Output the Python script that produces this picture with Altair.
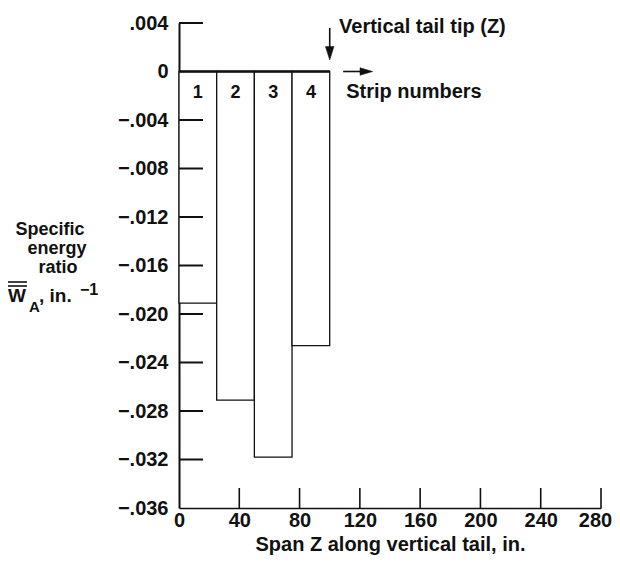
import altair as alt
import pandas as pd

# ---- data ----
strip_numbers = [1, 2, 3, 4]
strip_start = [0, 25, 50, 75]
strip_end = [25, 50, 75, 100]
energy_ratio = [-0.0191, -0.0271, -0.0318, -0.0226]

y_tick_values = [0.004, 0.0, -0.004, -0.008, -0.012, -0.016, -0.020,
                 -0.024, -0.028, -0.032, -0.036]
x_tick_values = [0, 40, 80, 120, 160, 200, 240, 280]

FONT = "Liberation Sans"
BLACK = "#111111"

bars = pd.DataFrame({
    "strip": strip_numbers,
    "start": strip_start,
    "end": strip_end,
    "mid": [(a + b) / 2 for a, b in zip(strip_start, strip_end)],
    "top": [0.0] * len(strip_numbers),
    "value": energy_ratio,
    "label_y": [-0.00218] * len(strip_numbers),
})

xs = alt.Scale(domain=[0, 280], nice=False, zero=False)
ys = alt.Scale(domain=[-0.036, 0.004], nice=False, zero=False)

y_label_expr = ("datum.value == 0 ? '0' : (datum.value < 0 ? '\u2212' : '') + "
                "replace(format(abs(datum.value), '.3f'), '0.', '.')")

bar_layer = alt.Chart(bars).mark_rect(
    fill="white", stroke=BLACK, strokeWidth=1.3
).encode(
    x=alt.X("start:Q", scale=xs, axis=alt.Axis(
        values=x_tick_values, ticks=False, tickSize=0, grid=False,
        labelFont=FONT, labelFontSize=20, labelFontWeight="bold",
        labelColor=BLACK, labelPadding=2, domainColor=BLACK, domainWidth=1.6,
        labelOffset={"condition": {"test": "datum.value == 280", "value": -6},
                     "value": 0},
        title="Span Z along vertical tail, in.", titleFont=FONT,
        titleFontSize=20, titleFontWeight="bold", titleColor=BLACK,
        titlePadding=4, labelFlush=False)),
    x2="end:Q",
    y=alt.Y("top:Q", scale=ys, axis=alt.Axis(
        values=y_tick_values, ticks=False, tickSize=0, grid=False,
        labelExpr=y_label_expr, labelFont=FONT, labelFontSize=20,
        labelFontWeight="bold", labelColor=BLACK, labelPadding=11,
        domainColor=BLACK, domainWidth=2, title="", labelFlush=False)),
    y2="value:Q",
)

zero_df = pd.DataFrame({"x0": [strip_start[0]], "x1": [strip_end[-1]], "y": [0.0]})
zero_line = alt.Chart(zero_df).mark_rule(color=BLACK, strokeWidth=2.4).encode(
    x=alt.X("x0:Q", scale=xs), x2="x1:Q", y=alt.Y("y:Q", scale=ys))

ytick_df = pd.DataFrame({"v": [v for v in y_tick_values if v not in (0.0, -0.036)]})
y_ticks = alt.Chart(ytick_df).mark_rule(color=BLACK, strokeWidth=2).encode(
    y=alt.Y("v:Q", scale=ys), x=alt.value(0), x2=alt.value(24))

xtick_df = pd.DataFrame({"v": [v for v in x_tick_values if v != 0]})
x_ticks = alt.Chart(xtick_df).mark_rule(color=BLACK, strokeWidth=1.6).encode(
    x=alt.X("v:Q", scale=xs), y=alt.value(485), y2=alt.value(465))

strip_text = alt.Chart(bars).mark_text(
    font=FONT, fontSize=18, fontWeight="bold", color=BLACK,
    align="center", baseline="alphabetic"
).encode(x=alt.X("mid:Q", scale=xs), y=alt.Y("label_y:Q", scale=ys), text="strip:N")

notes = pd.DataFrame({
    "x": [106.2, 110.9],
    "y": [0.00317, -0.00218],
    "t": ["Vertical tail tip (Z)", "Strip numbers"],
})
note_text = alt.Chart(notes).mark_text(
    font=FONT, fontSize=20, fontWeight="bold", color=BLACK,
    align="left", baseline="alphabetic"
).encode(x=alt.X("x:Q", scale=xs), y=alt.Y("y:Q", scale=ys), text="t:N")

# arrows
down_df = pd.DataFrame({"x": [100], "y0": [0.0036], "y1": [0.0015]})
down_line = alt.Chart(down_df).mark_rule(color=BLACK, strokeWidth=1.6).encode(
    x=alt.X("x:Q", scale=xs), y=alt.Y("y0:Q", scale=ys), y2="y1:Q")
down_head = alt.Chart(down_df.assign(tip=[0.00095])).mark_point(
    shape="M-0.32,-1L0.32,-1L0,0Z", filled=True, fill=BLACK, stroke=BLACK,
    strokeWidth=0.5, size=720, opacity=1
).encode(x=alt.X("x:Q", scale=xs), y=alt.Y("tip:Q", scale=ys))

right_df = pd.DataFrame({"x0": [108.9], "x1": [122], "y": [0.0]})
right_line = alt.Chart(right_df).mark_rule(color=BLACK, strokeWidth=1.6).encode(
    x=alt.X("x0:Q", scale=xs), x2="x1:Q", y=alt.Y("y:Q", scale=ys))
right_head = alt.Chart(right_df.assign(tip=[128.5])).mark_point(
    shape="M-1,-0.3L-1,0.3L0,0Z", filled=True, fill=BLACK, stroke=BLACK,
    strokeWidth=0.5, size=640, opacity=1
).encode(x=alt.X("tip:Q", scale=xs), y=alt.Y("y:Q", scale=ys))

# y-axis title (multi-part, placed in pixels left of the plot)
def txt(t, x, y, size=20, align="center"):
    return alt.Chart(pd.DataFrame({"t": [t]})).mark_text(
        font=FONT, fontSize=size, fontWeight="bold", color=BLACK,
        align=align, baseline="alphabetic"
    ).encode(x=alt.value(x), y=alt.value(y), text="t:N")

ytitle = [
    txt("Specific", -129, 212, 18),
    txt("energy", -122, 231, 18),
    txt("ratio", -121, 250, 18),
    txt("W", -171, 279, 19, "left"),
    txt("A", -150, 289, 15, "left"),
    txt(", in.", -140, 279, 19, "left"),
    txt("\u22121", -99, 272, 16, "left"),
]
over_df = pd.DataFrame({"k": [0]})
overlines = [
    alt.Chart(over_df).mark_rule(color=BLACK, strokeWidth=1.6).encode(
        x=alt.value(-171), x2=alt.value(-152), y=alt.value(yy))
    for yy in (259.0, 263.0)
]

chart = alt.layer(
    bar_layer, zero_line, y_ticks, x_ticks, strip_text, note_text,
    down_line, down_head, right_line, right_head, *ytitle, *overlines
).properties(
    width=422, height=485,
    autosize=alt.AutoSizeParams(type="none"),
    padding={"left": 171, "top": 15, "right": 11, "bottom": 47},
    background="white",
).configure_view(strokeOpacity=0)

chart.save("out.html", embed_options={"renderer": "svg", "actions": False})
